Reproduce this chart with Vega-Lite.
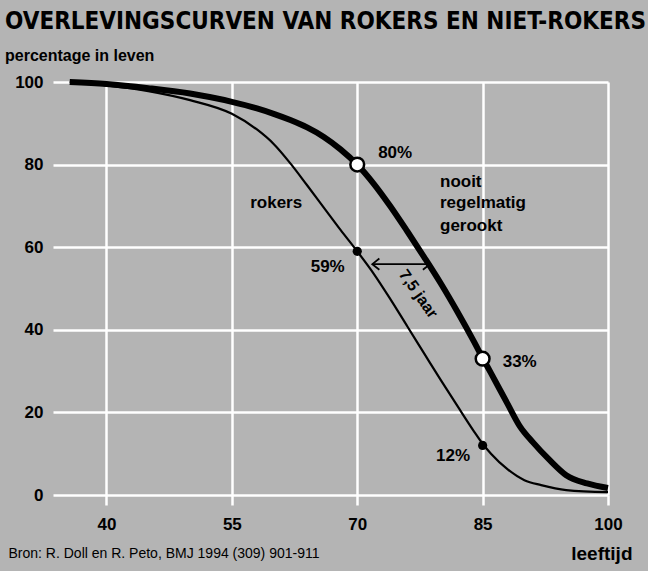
{
  "$schema": "https://vega.github.io/schema/vega-lite/v6.json",
  "width": 555,
  "height": 413,
  "autosize": {"type": "none"},
  "padding": {"left": 53, "top": 82, "right": 40, "bottom": 76},
  "background": "#b4b4b4",
  "config": {
    "view": {"stroke": null},
    "text": {"font": "Liberation Sans", "fontWeight": "bold", "fontSize": 17, "color": "black"}
  },
  "title": {
    "text": "OVERLEVINGSCURVEN VAN ROKERS EN NIET-ROKERS",
    "subtitle": "percentage in leven",
    "anchor": "start",
    "frame": "group",
    "dx": -48,
    "offset": 6,
    "font": "Liberation Sans Narrow, DejaVu Sans Condensed, Liberation Sans",
    "fontSize": 24,
    "fontWeight": "bold",
    "color": "black",
    "subtitleFont": "Liberation Sans",
    "subtitleFontSize": 16,
    "subtitleFontWeight": "bold",
    "subtitleColor": "black",
    "subtitlePadding": 14
  },
  "datasets": {
    "curves": [
      {"age": 35.6, "pct": 100, "groep": "nooit"},
      {"age": 40, "pct": 99.5, "groep": "nooit"},
      {"age": 45, "pct": 98.5, "groep": "nooit"},
      {"age": 50, "pct": 97.2, "groep": "nooit"},
      {"age": 55, "pct": 95.2, "groep": "nooit"},
      {"age": 58, "pct": 93.6, "groep": "nooit"},
      {"age": 60, "pct": 92.3, "groep": "nooit"},
      {"age": 62, "pct": 90.8, "groep": "nooit"},
      {"age": 64, "pct": 89, "groep": "nooit"},
      {"age": 66, "pct": 86.7, "groep": "nooit"},
      {"age": 68, "pct": 83.7, "groep": "nooit"},
      {"age": 70, "pct": 80, "groep": "nooit"},
      {"age": 72, "pct": 75.3, "groep": "nooit"},
      {"age": 74, "pct": 69.8, "groep": "nooit"},
      {"age": 76, "pct": 63.8, "groep": "nooit"},
      {"age": 78, "pct": 57.6, "groep": "nooit"},
      {"age": 80, "pct": 51.2, "groep": "nooit"},
      {"age": 82, "pct": 44.3, "groep": "nooit"},
      {"age": 84, "pct": 37, "groep": "nooit"},
      {"age": 85, "pct": 33.2, "groep": "nooit"},
      {"age": 86, "pct": 29.5, "groep": "nooit"},
      {"age": 88, "pct": 22, "groep": "nooit"},
      {"age": 89.5, "pct": 16.5, "groep": "nooit"},
      {"age": 91, "pct": 12.8, "groep": "nooit"},
      {"age": 93, "pct": 8.5, "groep": "nooit"},
      {"age": 95, "pct": 4.8, "groep": "nooit"},
      {"age": 97.5, "pct": 2.8, "groep": "nooit"},
      {"age": 100, "pct": 1.7, "groep": "nooit"},
      {"age": 35.6, "pct": 100, "groep": "rokers"},
      {"age": 40, "pct": 99.2, "groep": "rokers"},
      {"age": 45, "pct": 97.8, "groep": "rokers"},
      {"age": 50, "pct": 95.6, "groep": "rokers"},
      {"age": 55, "pct": 92.3, "groep": "rokers"},
      {"age": 58, "pct": 88.5, "groep": "rokers"},
      {"age": 60, "pct": 85, "groep": "rokers"},
      {"age": 62, "pct": 80.3, "groep": "rokers"},
      {"age": 64, "pct": 75, "groep": "rokers"},
      {"age": 66, "pct": 69.6, "groep": "rokers"},
      {"age": 68, "pct": 64.2, "groep": "rokers"},
      {"age": 70, "pct": 59, "groep": "rokers"},
      {"age": 72, "pct": 53.5, "groep": "rokers"},
      {"age": 74, "pct": 47.3, "groep": "rokers"},
      {"age": 76, "pct": 40.8, "groep": "rokers"},
      {"age": 78, "pct": 34.3, "groep": "rokers"},
      {"age": 80, "pct": 27.8, "groep": "rokers"},
      {"age": 82, "pct": 21.5, "groep": "rokers"},
      {"age": 84, "pct": 15.3, "groep": "rokers"},
      {"age": 85, "pct": 12.4, "groep": "rokers"},
      {"age": 86, "pct": 10, "groep": "rokers"},
      {"age": 88, "pct": 6.2, "groep": "rokers"},
      {"age": 90, "pct": 3.6, "groep": "rokers"},
      {"age": 92, "pct": 2.4, "groep": "rokers"},
      {"age": 95, "pct": 1.2, "groep": "rokers"},
      {"age": 100, "pct": 0.7, "groep": "rokers"}
    ],
    "open": [{"age": 70, "pct": 80}, {"age": 85, "pct": 33}],
    "dots": [{"age": 70, "pct": 59}, {"age": 85, "pct": 12}],
    "arrow": [{"from": 71.8, "to": 78.7, "pct": 55.9}],
    "leftLabels": [
      {"age": 72.5, "pct": 82.8, "label": "80%"},
      {"age": 87.4, "pct": 32.2, "label": "33%"},
      {"age": 79.9, "pct": 75.8, "label": "nooit"},
      {"age": 79.9, "pct": 70.7, "label": "regelmatig"},
      {"age": 79.9, "pct": 65.1, "label": "gerookt"}
    ],
    "rightLabels": [
      {"age": 68.5, "pct": 55.2, "label": "59%"},
      {"age": 83.5, "pct": 9.4, "label": "12%"}
    ],
    "centerLabels": [
      {"age": 60.3, "pct": 70.7, "label": "rokers"}
    ],
    "rotLabels": [
      {"age": 77.3, "pct": 48.7, "label": "7,5 jaar"}
    ]
  },
  "encoding": {
    "x": {
      "field": "age", "type": "quantitative",
      "scale": {"domain": [33.6, 100], "nice": false, "zero": false},
      "axis": {
        "values": [40, 55, 70, 85, 100],
        "title": "leeftijd",
        "titleX": 579, "titleY": 58, "titleAlign": "right", "titleBaseline": "middle",
        "titleFont": "Liberation Sans", "titleFontSize": 19, "titleFontWeight": "bold", "titleColor": "black",
        "labelFont": "Liberation Sans", "labelFontSize": 17, "labelFontWeight": "bold", "labelColor": "black",
        "labelFlush": false, "labelPadding": 11,
        "grid": true, "gridColor": "white", "gridWidth": 2.5, "gridOpacity": 1,
        "ticks": true, "tickColor": "white", "tickSize": 10, "tickWidth": 2.5,
        "domain": false
      }
    },
    "y": {
      "field": "pct", "type": "quantitative",
      "scale": {"domain": [0, 100], "nice": false},
      "axis": {
        "values": [0, 20, 40, 60, 80, 100],
        "title": "Bron: R. Doll en R. Peto, BMJ 1994 (309) 901-911",
        "titleAngle": 0, "titleX": -45, "titleY": 471, "titleAlign": "left", "titleBaseline": "middle",
        "titleFont": "Liberation Sans", "titleFontSize": 14, "titleFontWeight": "normal", "titleColor": "black",
        "labelFont": "Liberation Sans", "labelFontSize": 17, "labelFontWeight": "bold", "labelColor": "black",
        "labelPadding": 10,
        "grid": true, "gridColor": "white", "gridWidth": 2.5, "gridOpacity": 1,
        "ticks": false, "domain": false
      }
    }
  },
  "layer": [
    {
      "data": {"name": "curves"},
      "transform": [{"filter": "datum.groep === 'rokers'"}],
      "mark": {"type": "line", "color": "black", "strokeWidth": 2.2, "interpolate": "monotone"}
    },
    {
      "data": {"name": "curves"},
      "transform": [{"filter": "datum.groep === 'nooit'"}],
      "mark": {"type": "line", "color": "black", "strokeWidth": 6, "interpolate": "monotone"}
    },
    {
      "data": {"name": "arrow"},
      "mark": {"type": "rule", "color": "black", "strokeWidth": 1.8},
      "encoding": {"x": {"field": "from", "type": "quantitative"}, "x2": {"field": "to"}}
    },
    {
      "data": {"name": "arrow"},
      "mark": {"type": "point", "shape": "M1,-0.8L0,0L1,0.8", "filled": false, "stroke": "black", "strokeWidth": 1.8, "size": 200, "opacity": 1},
      "encoding": {"x": {"field": "from", "type": "quantitative"}}
    },
    {
      "data": {"name": "arrow"},
      "mark": {"type": "point", "shape": "M-1,-0.8L0,0L-1,0.8", "filled": false, "stroke": "black", "strokeWidth": 1.8, "size": 200, "opacity": 1},
      "encoding": {"x": {"field": "to", "type": "quantitative"}}
    },
    {
      "data": {"name": "open"},
      "mark": {"type": "point", "shape": "circle", "filled": true, "fill": "white", "stroke": "black", "strokeWidth": 2.5, "size": 190, "opacity": 1}
    },
    {
      "data": {"name": "dots"},
      "mark": {"type": "point", "shape": "circle", "filled": true, "fill": "black", "size": 85, "opacity": 1}
    },
    {
      "data": {"name": "leftLabels"},
      "mark": {"type": "text", "align": "left", "baseline": "middle"},
      "encoding": {"text": {"field": "label"}}
    },
    {
      "data": {"name": "rightLabels"},
      "mark": {"type": "text", "align": "right", "baseline": "middle"},
      "encoding": {"text": {"field": "label"}}
    },
    {
      "data": {"name": "centerLabels"},
      "mark": {"type": "text", "align": "center", "baseline": "middle"},
      "encoding": {"text": {"field": "label"}}
    },
    {
      "data": {"name": "rotLabels"},
      "mark": {"type": "text", "align": "center", "baseline": "middle", "angle": 55, "fontSize": 16},
      "encoding": {"text": {"field": "label"}}
    }
  ]
}
